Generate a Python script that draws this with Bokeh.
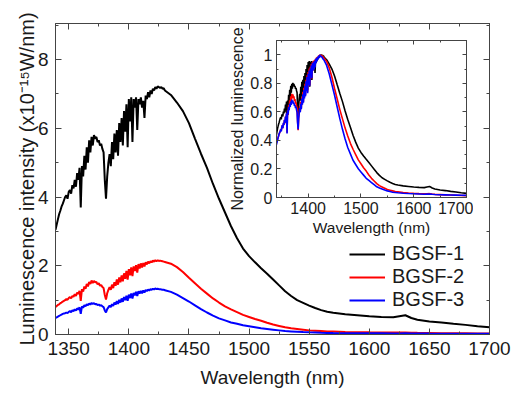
from bokeh.plotting import figure
from bokeh.models import Range1d, LinearAxis, Legend, LegendItem, SingleIntervalTicker
from bokeh.layouts import column
from bokeh.embed import file_html
from bokeh.resources import INLINE

# ---------------- data ----------------
wl_noisy = list(range(1339, 1431))
wl_tail = [1435, 1440, 1445, 1450, 1455, 1460, 1465, 1470, 1475, 1480, 1485, 1490, 1495,
           1500, 1505, 1510, 1515, 1520, 1525, 1530, 1535, 1540, 1545, 1550, 1555, 1560,
           1565, 1570, 1580, 1590, 1600, 1610, 1620, 1625, 1630, 1635, 1640, 1650, 1660,
           1670, 1680, 1690, 1700]
wavelength = wl_noisy + wl_tail

bgsf1 = [3.05, 3.2, 3.35, 3.5, 3.6, 3.72, 3.8, 3.9, 4.0, 4.05, 3.95, 4.15, 4.2, 4.1, 4.35,
         4.25, 4.5, 4.3, 4.7, 4.5, 4.85, 3.7, 4.9, 4.6, 5.2, 4.8, 5.45, 5.0, 5.65, 5.3,
         5.75, 5.5, 5.8, 5.7, 5.75, 5.6, 5.65, 5.5, 5.55, 5.4, 5.3, 4.5, 3.95, 4.6, 5.0,
         5.25, 4.9, 5.6, 5.1, 5.85, 5.3, 5.95, 5.2, 6.15, 5.6, 6.3, 5.5, 6.5, 5.9, 6.7,
         5.45, 6.85, 6.2, 6.9, 5.6, 6.85, 6.6, 6.9, 5.95, 6.85, 6.7, 6.9, 6.6, 6.8, 6.3,
         6.95, 6.85, 7.05, 6.9, 7.1, 7.0, 7.15, 7.1, 7.2, 7.15, 7.22, 7.2, 7.18, 7.2, 7.15,
         7.17, 7.1,
         6.97, 6.75, 6.5, 6.15, 5.7, 5.26, 4.85, 4.38, 3.95, 3.55, 3.15, 2.8, 2.5,
         2.28, 2.1, 1.93, 1.77, 1.6, 1.43, 1.26, 1.12, 1.0, 0.92, 0.84, 0.77, 0.71,
         0.66, 0.63, 0.59, 0.56, 0.53, 0.51, 0.5, 0.53, 0.56, 0.48, 0.43, 0.38, 0.35,
         0.31, 0.28, 0.24, 0.21]

bgsf2 = [0.8, 0.83, 0.86, 0.88, 0.91, 0.93, 0.96, 0.98, 1.0, 1.03, 1.01, 1.06, 1.09, 1.05,
         1.12, 1.1, 1.17, 1.12, 1.22, 1.18, 1.27, 0.98, 1.32, 1.25, 1.4, 1.33, 1.47, 1.4,
         1.53, 1.47, 1.57, 1.5, 1.56, 1.52, 1.53, 1.46, 1.49, 1.42, 1.44, 1.38, 1.35, 1.15,
         1.02, 1.2, 1.3, 1.38, 1.3, 1.45, 1.35, 1.52, 1.42, 1.6, 1.45, 1.66, 1.52, 1.72,
         1.55, 1.78, 1.62, 1.85, 1.6, 1.9, 1.72, 1.95, 1.7, 1.98, 1.85, 2.02, 1.8, 2.05,
         1.92, 2.07, 1.95, 2.08, 1.98, 2.1, 2.04, 2.12, 2.07, 2.13, 2.1, 2.15, 2.12, 2.16,
         2.13, 2.16, 2.14, 2.15, 2.14, 2.13, 2.12, 2.11,
         2.06, 1.96, 1.82, 1.65, 1.49, 1.33, 1.19, 1.05, 0.93, 0.82, 0.73, 0.65, 0.57,
         0.51, 0.45, 0.4, 0.34, 0.29, 0.25, 0.21, 0.18, 0.16, 0.14, 0.12, 0.11, 0.1,
         0.09, 0.085, 0.075, 0.068, 0.062, 0.058, 0.055, 0.056, 0.058, 0.052, 0.048,
         0.044, 0.04, 0.037, 0.034, 0.031, 0.028]

bgsf3 = [0.48, 0.5, 0.52, 0.54, 0.56, 0.58, 0.6, 0.61, 0.62, 0.64, 0.62, 0.66, 0.68, 0.65,
         0.7, 0.68, 0.73, 0.7, 0.76, 0.73, 0.79, 0.6, 0.82, 0.78, 0.85, 0.82, 0.88, 0.85,
         0.9, 0.87, 0.92, 0.89, 0.91, 0.88, 0.89, 0.86, 0.87, 0.84, 0.85, 0.82, 0.8, 0.7,
         0.64, 0.74, 0.79, 0.84, 0.8, 0.88, 0.83, 0.93, 0.87, 0.97, 0.89, 1.01, 0.93, 1.05,
         0.95, 1.09, 1.0, 1.13, 0.98, 1.16, 1.06, 1.19, 1.05, 1.21, 1.14, 1.24, 1.12, 1.26,
         1.19, 1.27, 1.2, 1.28, 1.22, 1.3, 1.26, 1.31, 1.28, 1.32, 1.3, 1.33, 1.31, 1.34,
         1.32, 1.33, 1.32, 1.32, 1.31, 1.3, 1.3, 1.29,
         1.24, 1.16, 1.06, 0.96, 0.85, 0.74, 0.64, 0.55, 0.47, 0.41, 0.35, 0.31, 0.27,
         0.24, 0.21, 0.18, 0.16, 0.14, 0.12, 0.1, 0.09, 0.08, 0.07, 0.062, 0.056, 0.05,
         0.047, 0.044, 0.04, 0.037, 0.035, 0.033, 0.031, 0.032, 0.033, 0.03, 0.028,
         0.026, 0.025, 0.023, 0.022, 0.021, 0.02]

labels = ["BGSF-1", "BGSF-2", "BGSF-3"]
colors = ["#000000", "#ff0000", "#0000ff"]
series = [bgsf1, bgsf2, bgsf3]

# normalized copies for the inset
norm = [[v / max(s) for v in s] for s in series]

FONT = "Liberation Sans"
AX = "#444444"
TXT = "#1a1a1a"


def style_axis(ax, size, tin, tmin, standoff):
    ax.axis_line_color = AX
    ax.axis_line_width = 1
    ax.major_tick_line_color = AX
    ax.minor_tick_line_color = AX
    ax.major_tick_in = tin
    ax.major_tick_out = 0
    ax.minor_tick_in = tmin
    ax.minor_tick_out = 0
    ax.major_label_text_font = FONT
    ax.major_label_text_font_size = size
    ax.major_label_text_color = TXT
    ax.major_label_standoff = standoff
    ax.axis_label_text_font = FONT
    ax.axis_label_text_font_style = "normal"
    ax.axis_label_text_color = TXT


def mirror(p, side, ticker, tin, tmin):
    ax = LinearAxis(ticker=ticker)
    style_axis(ax, "0px", tin, tmin, 0)
    ax.major_label_text_alpha = 0
    p.add_layout(ax, side)


# ---------------- main figure ----------------
p = figure(width=513, height=393, x_range=Range1d(1339, 1700), y_range=Range1d(0, 9.05),
           output_backend="svg", toolbar_location=None,
           min_border_left=55, min_border_right=24, min_border_top=23, min_border_bottom=59)
p.xgrid.visible = False
p.ygrid.visible = False
p.outline_line_color = AX
p.background_fill_color = "white"
p.border_fill_color = "white"

p.xaxis.ticker = SingleIntervalTicker(interval=50, num_minor_ticks=2)
p.yaxis.ticker = SingleIntervalTicker(interval=2, num_minor_ticks=2)
style_axis(p.xaxis[0], "19px", 6, 3, 7)
style_axis(p.yaxis[0], "19px", 6, 3, 7)
p.xaxis.axis_label = "Wavelength (nm)"
p.yaxis.axis_label = "Luminescence intensity (x10\u207b\u00b9\u2075W/nm)"
p.xaxis.axis_label_text_font_size = "19px"
p.yaxis.axis_label_text_font_size = "20px"
p.xaxis.axis_label_standoff = 9
p.yaxis.axis_label_standoff = -3
mirror(p, "above", SingleIntervalTicker(interval=50, num_minor_ticks=2), 6, 3)
mirror(p, "right", SingleIntervalTicker(interval=2, num_minor_ticks=2), 6, 3)

renderers = []
for s, c in zip(series, colors):
    r = p.line(wavelength, s, line_color=c, line_width=2)
    renderers.append(r)

legend = Legend(items=[LegendItem(label=l, renderers=[r]) for l, r in zip(labels, renderers)],
                location=(294, 23), glyph_width=36, glyph_height=18, label_height=18,
                label_standoff=7, spacing=0, padding=0, margin=0,
                border_line_alpha=0, background_fill_alpha=0,
                label_text_font=FONT, label_text_font_size="20px", label_text_color=TXT)
p.add_layout(legend)

# ---------------- inset ----------------
inset = figure(frame_width=190, frame_height=157, x_range=Range1d(1340, 1700),
               y_range=Range1d(0, 1.1), output_backend="svg", toolbar_location=None,
               min_border_left=52, min_border_right=10, min_border_top=22, min_border_bottom=45)
inset.xgrid.visible = False
inset.ygrid.visible = False
inset.outline_line_color = AX
inset.background_fill_color = "white"
inset.border_fill_alpha = 0
inset.xaxis.ticker = SingleIntervalTicker(interval=100, num_minor_ticks=2)
inset.yaxis.ticker = SingleIntervalTicker(interval=0.2, num_minor_ticks=2)
style_axis(inset.xaxis[0], "16px", 4, 2, 4)
style_axis(inset.yaxis[0], "16px", 4, 2, 4)
inset.xaxis.axis_label = "Wavelength (nm)"
inset.yaxis.axis_label = "Normalized luminescence"
inset.xaxis.axis_label_text_font_size = "15.5px"
inset.yaxis.axis_label_text_font_size = "16px"
inset.xaxis.axis_label_standoff = 2
inset.yaxis.axis_label_standoff = 1
mirror(inset, "above", SingleIntervalTicker(interval=100, num_minor_ticks=2), 4, 2)
mirror(inset, "right", SingleIntervalTicker(interval=0.2, num_minor_ticks=2), 4, 2)
for s, c in zip(norm, colors):
    inset.line(wavelength, s, line_color=c, line_width=1.6)

inset.styles = {"position": "absolute", "left": "221px", "top": "18px"}

layout = column(p, inset, styles={"position": "relative"})

open("out.html", "w").write(file_html(layout, INLINE))
